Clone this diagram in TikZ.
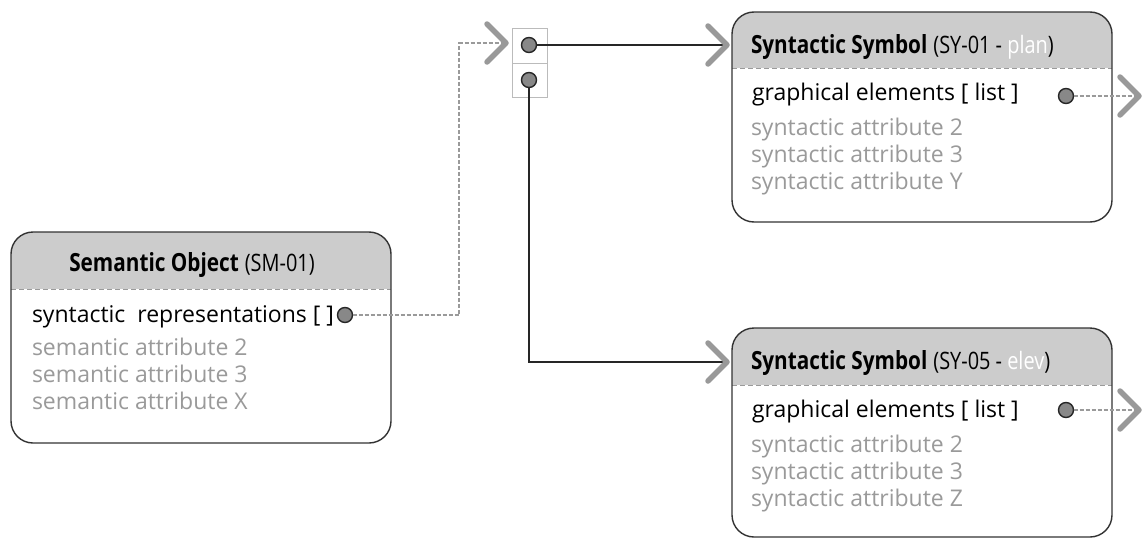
\documentclass[tikz,border=0pt]{standalone}
\usepackage{fontspec}
\setmainfont{Open Sans}
\newfontfamily\hdfont[FakeStretch=0.83]{Open Sans}
\definecolor{boxline}{HTML}{333333}
\definecolor{hdr}{HTML}{CCCCCC}
\definecolor{attr}{HTML}{9A9A9A}
\definecolor{chev}{HTML}{999999}
\definecolor{dash}{HTML}{9A9A9A}
\definecolor{portfill}{HTML}{888888}
\definecolor{portbox}{HTML}{BBBBBB}
\newcommand{\headbold}[1]{{\hdfont\fontsize{25}{28}\selectfont\bfseries #1}}
\newcommand{\headplain}[1]{{\hdfont\fontsize{24}{28}\selectfont #1}}
\begin{document}
\begin{tikzpicture}[x=1pt,y=-1pt,
  every node/.style={inner sep=0pt, outer sep=0pt, font=\fontsize{23}{26}\selectfont},
  card/.style={draw=boxline, line width=1.4pt, rounded corners=22pt,
    minimum width=380pt, fill=white,
    path picture={
      \fill[hdr, sharp corners] (path picture bounding box.north west) rectangle
        ([yshift=-#1]path picture bounding box.north east);
      \draw[attr, sharp corners, line width=0.8pt, dash pattern=on 5pt off 3pt]
        ([yshift=-#1]path picture bounding box.north west) --
        ([yshift=-#1]path picture bounding box.north east);
    }},
  main/.style={anchor=base west, text=black},
  attrtext/.style={anchor=base west, text=attr},
  port/.style={circle, draw=black!85, line width=1.4pt, fill=portfill, minimum size=15pt},
  solidlink/.style={draw=black!85, line width=1.2pt},
  dashlink/.style={draw=dash, line width=2.2pt, dash pattern=on 4pt off 2pt},
  chevron/.style={draw=chev, line width=5.5pt, line cap=round, line join=round}
]
\useasboundingbox (0,0) rectangle (1144,538);

% ---------- semantic object ----------
\node[card=57pt, minimum height=211pt] (sm) at (201,337.5) {};
\node[anchor=base] (sm-title) at (192,271) {\headbold{Semantic Object} \headplain{(SM-01)}};
\node[main] (sm-a1) at (32,322) {syntactic\ \ representations [ ]};
\node[attrtext] (sm-a2) at (32,355) {semantic attribute 2};
\node[attrtext] (sm-a3) at (32,382) {semantic attribute 3};
\node[attrtext] (sm-a4) at (32,409) {semantic attribute X};
\node[port] (sm-out) at (345,315) {};

% ---------- syntactic symbol SY-01 ----------
\node[card=56pt, minimum height=210pt] (sy1) at (922,117) {};
\node[main] (sy1-title) at (751,53) {\headbold{Syntactic Symbol} \headplain{(SY-01 - \textcolor{white}{plan})}};
\node[main] (sy1-a1) at (752,100) {graphical elements [ list ]};
\node[attrtext] (sy1-a2) at (751,135) {syntactic attribute 2};
\node[attrtext] (sy1-a3) at (751,162) {syntactic attribute 3};
\node[attrtext] (sy1-a4) at (751,189) {syntactic attribute Y};
\node[port] (sy1-out) at (1066,96) {};

% ---------- syntactic symbol SY-05 ----------
\node[card=57pt, minimum height=209pt] (sy2) at (922,432.5) {};
\node[main] (sy2-title) at (751,369) {\headbold{Syntactic Symbol} \headplain{(SY-05 - \textcolor{white}{elev})}};
\node[main] (sy2-a1) at (752,417) {graphical elements [ list ]};
\node[attrtext] (sy2-a2) at (751,452) {syntactic attribute 2};
\node[attrtext] (sy2-a3) at (751,479) {syntactic attribute 3};
\node[attrtext] (sy2-a4) at (751,506) {syntactic attribute Z};
\node[port] (sy2-out) at (1066,410) {};

% ---------- port stack ----------
\node[draw=portbox, line width=1pt, minimum width=35pt, minimum height=35pt] (slot1) at (529.5,45.5) {};
\node[draw=portbox, line width=1pt, minimum width=35pt, minimum height=34pt] (slot2) at (529.5,80) {};
\node[port] (p1) at (529,45) {};
\node[port] (p2) at (529,80) {};

% ---------- arrow heads (chevrons) ----------
\coordinate (in-stack) at (506,43);
\coordinate (in-sy1) at (727,45);
\coordinate (in-sy2) at (727,362);
\coordinate (out-sy1) at (1139,96);
\coordinate (out-sy2) at (1139,410);
\coordinate (bend) at (459,43);

% ---------- connectors ----------
\draw[dashlink] (sm-out.east) -| (bend) -- (in-stack);
\draw[solidlink] (p1.east) -- (in-sy1);
\draw[solidlink] (p2.south) |- (in-sy2);
\draw[dashlink] (sy1-out.east) -- (out-sy1);
\draw[dashlink] (sy2-out.east) -- (out-sy2);

\foreach \c in {in-stack,in-sy1,in-sy2,out-sy1,out-sy2}
  \draw[chevron] ([xshift=-19pt,yshift=19pt]\c) -- (\c) -- ([xshift=-19pt,yshift=-19pt]\c);
\end{tikzpicture}
\end{document}
